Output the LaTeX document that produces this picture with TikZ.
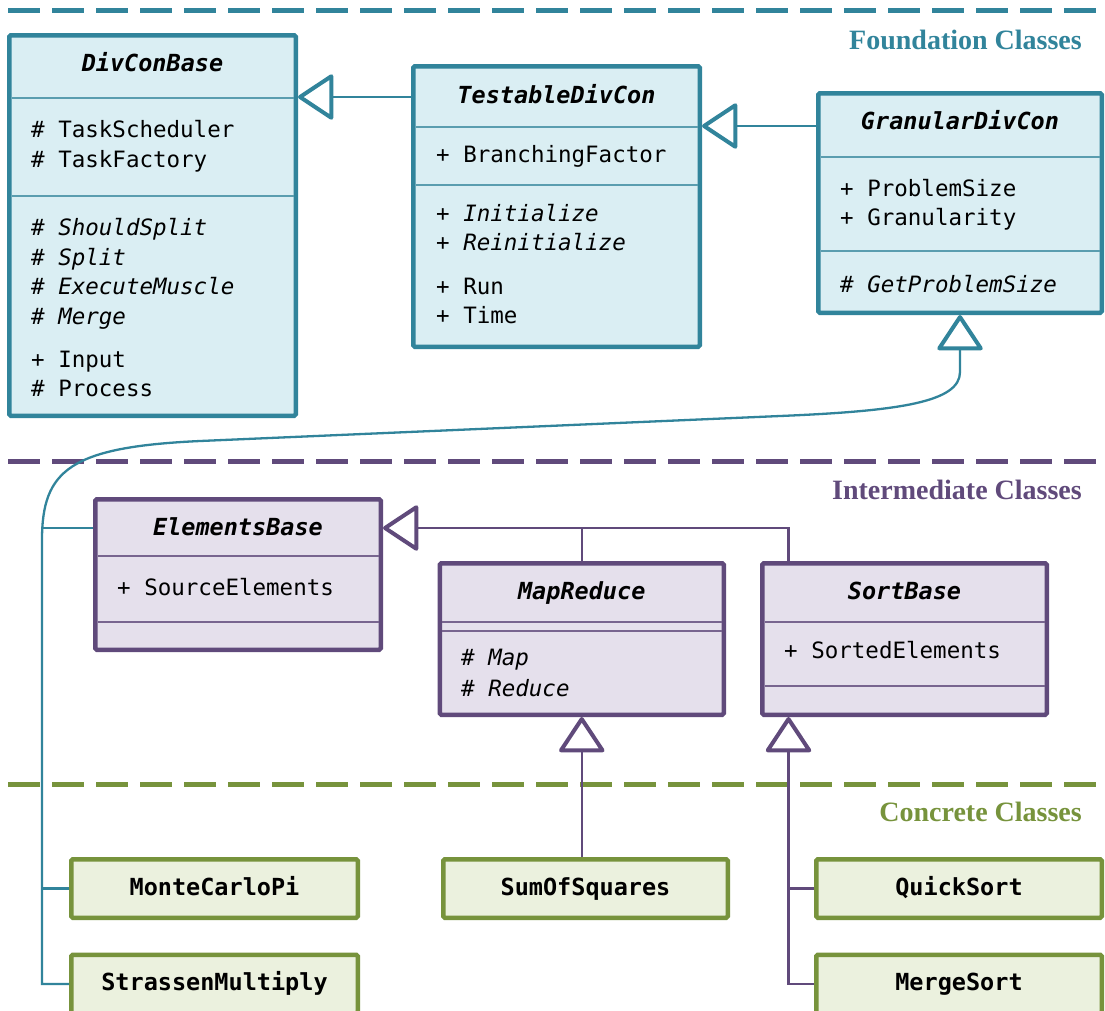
\documentclass[tikz,border=0pt]{standalone}
\usepackage{fontspec}
\setmonofont{DejaVu Sans Mono}[
  BoldFont={DejaVu Sans Mono Bold},
  ItalicFont={DejaVu Sans Mono Oblique},
  BoldItalicFont={DejaVu Sans Mono Bold Oblique}]
\newfontfamily\tierfont{Liberation Serif}
\usetikzlibrary{arrows.meta}

\definecolor{fteal}{HTML}{31849B}
\definecolor{ftealfill}{HTML}{DAEEF3}
\definecolor{fpurple}{HTML}{604A7B}
\definecolor{fpurplefill}{HTML}{E5E0EC}
\definecolor{fgreen}{HTML}{77933C}
\definecolor{fgreenfill}{HTML}{EBF1DE}

\begin{document}
\begin{tikzpicture}[x=1pt,y=-1pt,
  classbox/.style={draw, line width=4.5pt, rounded corners=1.5pt, inner sep=0pt},
  foundation/.style={classbox, draw=fteal, fill=ftealfill},
  intermediate/.style={classbox, draw=fpurple, fill=fpurplefill},
  concrete/.style={classbox, draw=fgreen, fill=fgreenfill},
  member/.style={anchor=base west, inner sep=0pt, font=\ttfamily\fontsize{22.5}{27}\selectfont},
  ctitle/.style={anchor=base, inner sep=0pt, font=\ttfamily\bfseries\itshape\fontsize{23.5}{28}\selectfont},
  cname/.style={anchor=base, inner sep=0pt, font=\ttfamily\bfseries\fontsize{23.5}{28}\selectfont},
  tier/.style={anchor=base east, inner sep=0pt, font=\tierfont\bfseries\fontsize{28}{32}\selectfont},
  divider/.style={line width=1.8pt},
  conn/.style={line width=2.3pt},
  inh/.style={conn, -{Triangle[open, length=37pt, width=48pt, line width=4pt, round]}},
  band/.style={line width=4.2pt, dash pattern=on 32pt off 12pt}
]
\fill[white] (0,0) rectangle (1105,1010);
\useasboundingbox (0,0) rectangle (1105,1010);

% tier separators
\draw[band, fteal]   (8,10.5)  -- (1105,10.5);
\draw[band, fpurple] (8,461.5) -- (1105,461.5);
\draw[band, fgreen]  (8,784.5) -- (1105,784.5);

\node[tier, text=fteal]   (tier1) at (1082,49.5)  {Foundation Classes};
\node[tier, text=fpurple] (tier2) at (1082,499.5) {Intermediate Classes};
\node[tier, text=fgreen]  (tier3) at (1082,821)   {Concrete Classes};

% ---------- foundation classes ----------
\node[foundation, minimum width=286.5pt, minimum height=380.5pt] (divcon) at (152.5,225.5) {};
\draw[divider, fteal!80] (11.5,98) -- (293.5,98);
\draw[divider, fteal!80] (11.5,196) -- (293.5,196);
\node[ctitle] (divcon-t) at (152.5,71.7) {DivConBase};
\node[member] (divcon-a1) at (31,137.3) {\# TaskScheduler};
\node[member] (divcon-a2) at (31,167.3) {\# TaskFactory};
\node[member] (divcon-m1) at (31,235)   {\# \textit{ShouldSplit}};
\node[member] (divcon-m2) at (31,265)   {\# \textit{Split}};
\node[member] (divcon-m3) at (31,294.5) {\# \textit{ExecuteMuscle}};
\node[member] (divcon-m4) at (31,324)   {\# \textit{Merge}};
\node[member] (divcon-m5) at (31,367)   {+ Input};
\node[member] (divcon-m6) at (31,396)   {\# Process};

\node[foundation, minimum width=286.5pt, minimum height=280.5pt] (testable) at (556.5,206.5) {};
\draw[divider, fteal!80] (415.5,127) -- (697.5,127);
\draw[divider, fteal!80] (415.5,185) -- (697.5,185);
\node[ctitle] (testable-t) at (556.5,103.3) {TestableDivCon};
\node[member] (testable-a1) at (436,162.7) {+ BranchingFactor};
\node[member] (testable-m1) at (436,221.7) {+ \textit{Initialize}};
\node[member] (testable-m2) at (436,250.7) {+ \textit{Reinitialize}};
\node[member] (testable-m3) at (436,294)   {+ Run};
\node[member] (testable-m4) at (436,323.3) {+ Time};

\node[foundation, minimum width=283.5pt, minimum height=219.5pt] (granular) at (960,203) {};
\draw[divider, fteal!80] (820.5,157) -- (1099.5,157);
\draw[divider, fteal!80] (820.5,251) -- (1099.5,251);
\node[ctitle] (granular-t) at (960,129.3) {GranularDivCon};
\node[member] (granular-a1) at (840,196)   {+ ProblemSize};
\node[member] (granular-a2) at (840,225)   {+ Granularity};
\node[member] (granular-m1) at (840,292.3) {\# \textit{GetProblemSize}};

% ---------- intermediate classes ----------
\node[intermediate, minimum width=285.5pt, minimum height=150.5pt] (elements) at (238,574.5) {};
\draw[divider, fpurple!85] (97.5,556) -- (378.5,556);
\draw[divider, fpurple!85] (97.5,622) -- (378.5,622);
\node[ctitle] (elements-t) at (238,535) {ElementsBase};
\node[member] (elements-a1) at (117,595) {+ SourceElements};

\node[intermediate, minimum width=284pt, minimum height=151.5pt] (mapreduce) at (581.75,639) {};
\draw[divider, fpurple!85] (442,622) -- (721.5,622);
\draw[divider, fpurple!85] (442,631) -- (721.5,631);
\node[ctitle] (mapreduce-t) at (581.75,599) {MapReduce};
\node[member] (mapreduce-m1) at (461,665.7) {\# \textit{Map}};
\node[member] (mapreduce-m2) at (461,696)   {\# \textit{Reduce}};

\node[intermediate, minimum width=284.5pt, minimum height=151.5pt] (sortbase) at (904.5,639) {};
\draw[divider, fpurple!85] (764.5,622) -- (1044.5,622);
\draw[divider, fpurple!85] (764.5,686) -- (1044.5,686);
\node[ctitle] (sortbase-t) at (904.5,599) {SortBase};
\node[member] (sortbase-a1) at (784,658.3) {+ SortedElements};

% ---------- concrete classes ----------
\node[concrete, minimum width=286.5pt, minimum height=58.5pt] (monte)    at (214.5,888.5) {};
\node[concrete, minimum width=286.5pt, minimum height=58.5pt] (strassen) at (214.5,984)   {};
\node[concrete, minimum width=284.5pt, minimum height=58.5pt] (sumsq)    at (585.5,888.5) {};
\node[concrete, minimum width=285.5pt, minimum height=58.5pt] (quick)    at (959,888.5)   {};
\node[concrete, minimum width=285.5pt, minimum height=58.5pt] (merge)    at (959,984)     {};
\node[cname] (monte-t)    at (214.5,895) {MonteCarloPi};
\node[cname] (strassen-t) at (214.5,990) {StrassenMultiply};
\node[cname] (sumsq-t)    at (585.5,895) {SumOfSquares};
\node[cname] (quick-t)    at (959,895)   {QuickSort};
\node[cname] (merge-t)    at (959,990)   {MergeSort};

% ---------- inheritance connectors ----------
\coordinate (row1) at (0,97);
\coordinate (row2) at (0,126);
\coordinate (trunk) at (42,540);
\coordinate (bend) at (960,372);
\coordinate (sortdrop) at (788.5,528);

\draw[inh, fteal] (testable.west |- row1) -- (divcon.east |- row1);
\draw[inh, fteal] (granular.west |- row2) -- (testable.east |- row2);

\draw[inh, fteal] (strassen.west) -- (strassen.west -| trunk) -- (trunk)
  .. controls (42,470) and (70,447) .. (200,441)
  -- (780,416)
  .. controls (900,411) and (960,402) .. (bend)
  -- (granular.south);
\draw[conn, fteal] (monte.west) -- (monte.west -| trunk);
\draw[conn, fteal] (elements.west |- sortdrop) -- (trunk |- sortdrop);

\draw[inh, fpurple] (sortbase.north -| sortdrop) -- (sortdrop) -- (elements.east |- sortdrop);
\draw[conn, fpurple] (mapreduce.north) -- (mapreduce.north |- sortdrop);
\draw[inh, fpurple] (mapreduce.south |- sumsq.north) -- (mapreduce.south);
\draw[inh, fpurple] (merge.west) -- (merge.west -| sortdrop) -- (sortbase.south -| sortdrop);
\draw[conn, fpurple] (quick.west) -- (quick.west -| sortdrop);
\end{tikzpicture}
\end{document}
